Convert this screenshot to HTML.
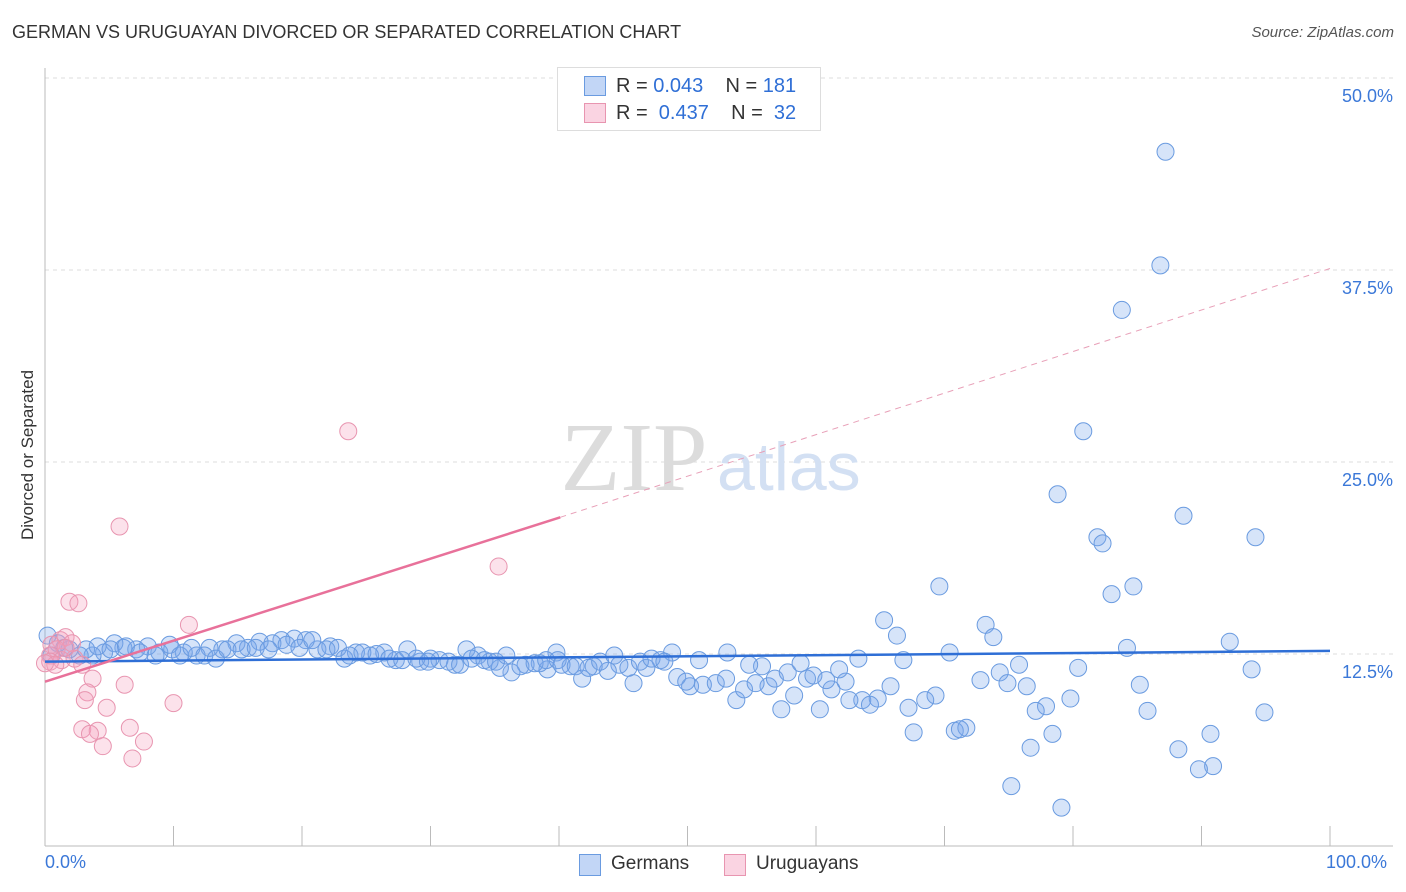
<!DOCTYPE html>
<html><head><meta charset="utf-8"><style>
body{margin:0;background:#fff;font-family:"Liberation Sans",sans-serif}
#wrap{position:relative;width:1406px;height:892px;overflow:hidden}
.t{position:absolute;white-space:nowrap}
</style></head><body>
<div id="wrap">
<div class="t" style="left:12px;top:22px;font-size:18px;color:#333">GERMAN VS URUGUAYAN DIVORCED OR SEPARATED CORRELATION CHART</div>
<div class="t" style="right:12px;top:24px;font-size:15px;color:#555;font-style:italic">Source: ZipAtlas.com</div>
<div class="t" style="left:28px;top:455px;font-size:17px;color:#333;transform:translate(-50%,-50%) rotate(-90deg)">Divorced or Separated</div>
<svg id="svg" width="1406" height="892" style="position:absolute;left:0;top:0"></svg>
<div style="position:absolute;left:557px;top:67px;width:262px;height:62px;border:1px solid #ddd;background:#fff;font-size:20px;color:#333">
 <div style="position:absolute;left:26px;top:8px;width:20px;height:18px;background:rgba(120,165,235,0.45);border:1px solid #6a9be0"></div>
 <div class="t" style="left:58px;top:7px">R = <span style="color:#2f6fd6">0.043</span>&nbsp;&nbsp;&nbsp; N = <span style="color:#2f6fd6">181</span></div>
 <div style="position:absolute;left:26px;top:35px;width:20px;height:18px;background:rgba(245,160,190,0.45);border:1px solid #e895b0"></div>
 <div class="t" style="left:58px;top:34px">R = &nbsp;<span style="color:#2f6fd6">0.437</span>&nbsp;&nbsp;&nbsp; N = &nbsp;<span style="color:#2f6fd6">32</span></div>
</div>
<div class="t" style="left:45px;top:852px;font-size:18px;color:#3b78d8">0.0%</div>
<div class="t" style="left:1326px;top:852px;font-size:18px;color:#3b78d8">100.0%</div>
<div>
 <div style="position:absolute;left:579px;top:854px;width:20px;height:20px;background:rgba(120,165,235,0.45);border:1px solid #6a9be0"></div>
 <div class="t" style="left:611px;top:853px;font-size:19px;color:#333">Germans</div>
 <div style="position:absolute;left:724px;top:854px;width:20px;height:20px;background:rgba(245,160,190,0.45);border:1px solid #e895b0"></div>
 <div class="t" style="left:756px;top:853px;font-size:19px;color:#333">Uruguayans</div>
</div>
</div>
<script>
const yTicks=[12.5,25,37.5,50];
const yTickLabels=["12.5%","25.0%","37.5%","50.0%"];
const germans=[[87.2,45.2],[86.8,37.8],[83.8,34.9],[80.8,27.0],[78.8,22.9],[88.6,21.5],[81.9,20.1],[82.3,19.7],[94.2,20.1],[69.6,16.9],[84.7,16.9],[83.0,16.4],[65.3,14.7],[73.2,14.4],[66.3,13.7],[73.8,13.6],[92.2,13.3],[84.2,12.9],[70.4,12.6],[63.3,12.2],[66.8,12.1],[75.8,11.8],[80.4,11.6],[93.9,11.5],[74.3,11.3],[72.8,10.8],[74.9,10.6],[76.4,10.4],[85.2,10.5],[65.8,10.4],[69.3,9.8],[68.5,9.5],[79.8,9.6],[64.8,9.6],[63.6,9.5],[64.2,9.2],[62.6,9.5],[67.2,9.0],[77.9,9.1],[77.1,8.8],[85.8,8.8],[94.9,8.7],[67.6,7.4],[70.8,7.5],[71.7,7.7],[71.2,7.6],[78.4,7.3],[90.7,7.3],[76.7,6.4],[88.2,6.3],[90.9,5.2],[89.8,5.0],[75.2,3.9],[79.1,2.5],
[60.3,8.9],[57.3,8.9],[58.3,9.8],[53.8,9.5],[56.3,10.4],[54.4,10.2],[55.3,10.6],[50.2,10.4],[51.2,10.5],[52.2,10.6],[53.0,10.9],[49.2,11.0],[49.9,10.7],[45.8,10.6],[61.2,10.2],[59.3,10.9],[59.8,11.1],[60.8,10.8],[62.3,10.7],[56.8,10.9],[61.8,11.5],[57.8,11.3],[55.8,11.7],[54.8,11.8],[58.8,11.9],[53.1,12.6],[50.9,12.1],[48.8,12.6],[47.9,12.1],[46.8,11.6],
[44.7,11.8],[43.8,11.4],[42.7,11.7],[41.8,10.9],[40.9,11.7],[39.8,12.6],[39.1,11.5],[38.5,11.9],[37.4,11.8],[36.3,11.3],[35.4,11.6],[34.6,12.0],[33.7,12.4],[32.8,12.8],[31.9,11.8],[30.7,12.1],[30.0,12.2],[29.2,12.0],[28.2,12.8],[27.3,12.1],[26.4,12.6],[25.3,12.4],[24.2,12.6],[23.3,12.2],[22.2,13.0],[21.2,12.8],[20.3,13.4],[19.4,13.5],[18.4,13.4],[17.7,13.2],[16.7,13.3],[15.8,12.9],[14.9,13.2],[13.8,12.8],[12.8,12.9],[11.8,12.4],[10.8,12.6],[9.9,12.8],[8.9,12.6],[8.0,13.0],[7.1,12.8],[6.1,12.9],[5.4,13.2],[4.6,12.6],[3.7,12.4],[2.7,12.4],[1.9,12.8],[1.0,13.2],[0.2,13.7],
[0.5,12.4],[1.5,12.9],[3.2,12.8],[4.1,13.0],[5.1,12.8],[6.3,13.0],[7.4,12.6],[8.6,12.4],[9.7,13.1],[10.5,12.4],[11.4,12.9],[12.4,12.4],[13.3,12.2],[14.2,12.8],[15.3,12.8],[16.4,12.9],[17.4,12.8],[18.8,13.1],[19.8,12.9],[20.8,13.4],[21.9,12.8],[22.8,12.9],[23.7,12.4],[24.7,12.6],[25.8,12.5],[26.8,12.2],[27.8,12.1],[28.9,12.2],[29.8,12.0],[31.4,12.0],[32.3,11.8],[33.2,12.2],[34.2,12.1],[35.1,12.0],[35.9,12.4],[37.0,11.7],[38.1,11.9],[39.0,12.1],[39.9,12.1],[40.2,11.8],[41.3,11.7],[42.3,11.6],[43.2,12.0],[44.3,12.4],[45.4,11.6],[46.3,12.0],[47.2,12.2],[48.2,12.0]];
const uruguayans=[[5.8,20.8],[23.6,27.0],[35.3,18.2],[1.9,15.9],[2.6,15.8],[11.2,14.4],[1.2,13.4],[1.6,13.6],[2.1,13.2],[0.5,13.1],[0.4,12.4],[0.9,12.8],[1.3,12.1],[2.3,12.2],[2.9,11.8],[0.4,12.0],[3.7,10.9],[6.2,10.5],[3.3,10.0],[3.1,9.5],[4.8,9.0],[10.0,9.3],[2.9,7.6],[4.1,7.5],[3.5,7.3],[6.6,7.7],[4.5,6.5],[7.7,6.8],[6.8,5.7],[0.8,11.8],[1.6,12.9],[0.0,11.9]];
const blueTrend=[[0,12.0],[100,12.7]];
const pinkTrend=[[0,10.7],[40.1,21.4],[100,37.6]];
const xs=v=>45+v*12.85, ys=v=>846-v*15.36;
const svg=document.getElementById('svg');const NS='http://www.w3.org/2000/svg';
function mk(t,a){const e=document.createElementNS(NS,t);for(const k in a)e.setAttribute(k,a[k]);svg.appendChild(e);return e;}
yTicks.forEach((v,i)=>{const g=mk('line',{x1:45,x2:1393,y1:ys(v),y2:ys(v),stroke:'#ddd','stroke-dasharray':'4,4'});


const t=mk('text',{x:1393,y:ys(v)+24,'text-anchor':'end','font-size':18,fill:'#3b78d8','font-family':'Liberation Sans'});t.textContent=yTickLabels[i];

});
mk('line',{x1:45,x2:45,y1:68,y2:846,stroke:'#bbb'});
mk('line',{x1:45,x2:1393,y1:846,y2:846,stroke:'#bbb'});
for(let i=0;i<=10;i++){const l=mk('line',{x1:xs(i*10),x2:xs(i*10),y1:826,y2:846,stroke:'#bbb'});

}
const wm=mk('text',{x:634,y:490,'text-anchor':'middle','font-size':98,fill:'#dcdcdc','font-family':'Liberation Serif'});wm.textContent='ZIP';


const wm2=mk('text',{x:717,y:490,'font-size':68,fill:'#d3e0f3','font-family':'Liberation Sans'});wm2.textContent='atlas';


germans.forEach(p=>{const c=mk('circle',{cx:xs(p[0]),cy:ys(p[1]),r:8.5,fill:'rgba(120,165,235,0.3)',stroke:'#6a9be0','stroke-width':1});

});
uruguayans.forEach(p=>{const c=mk('circle',{cx:xs(p[0]),cy:ys(p[1]),r:8.5,fill:'rgba(245,160,190,0.3)',stroke:'#e895b0','stroke-width':1});

});
const bl=mk('line',{x1:xs(blueTrend[0][0]),y1:ys(blueTrend[0][1]),x2:xs(blueTrend[1][0]),y2:ys(blueTrend[1][1]),stroke:'#2f6fd6','stroke-width':2.5});


const pl=mk('line',{x1:xs(pinkTrend[0][0]),y1:ys(pinkTrend[0][1]),x2:xs(pinkTrend[1][0]),y2:ys(pinkTrend[1][1]),stroke:'#e8719a','stroke-width':2.5});


const pd=mk('line',{x1:xs(pinkTrend[1][0]),y1:ys(pinkTrend[1][1]),x2:xs(pinkTrend[2][0]),y2:ys(pinkTrend[2][1]),stroke:'#e8a0b8','stroke-width':1,'stroke-dasharray':'6,5'});


</script>
</body></html>
